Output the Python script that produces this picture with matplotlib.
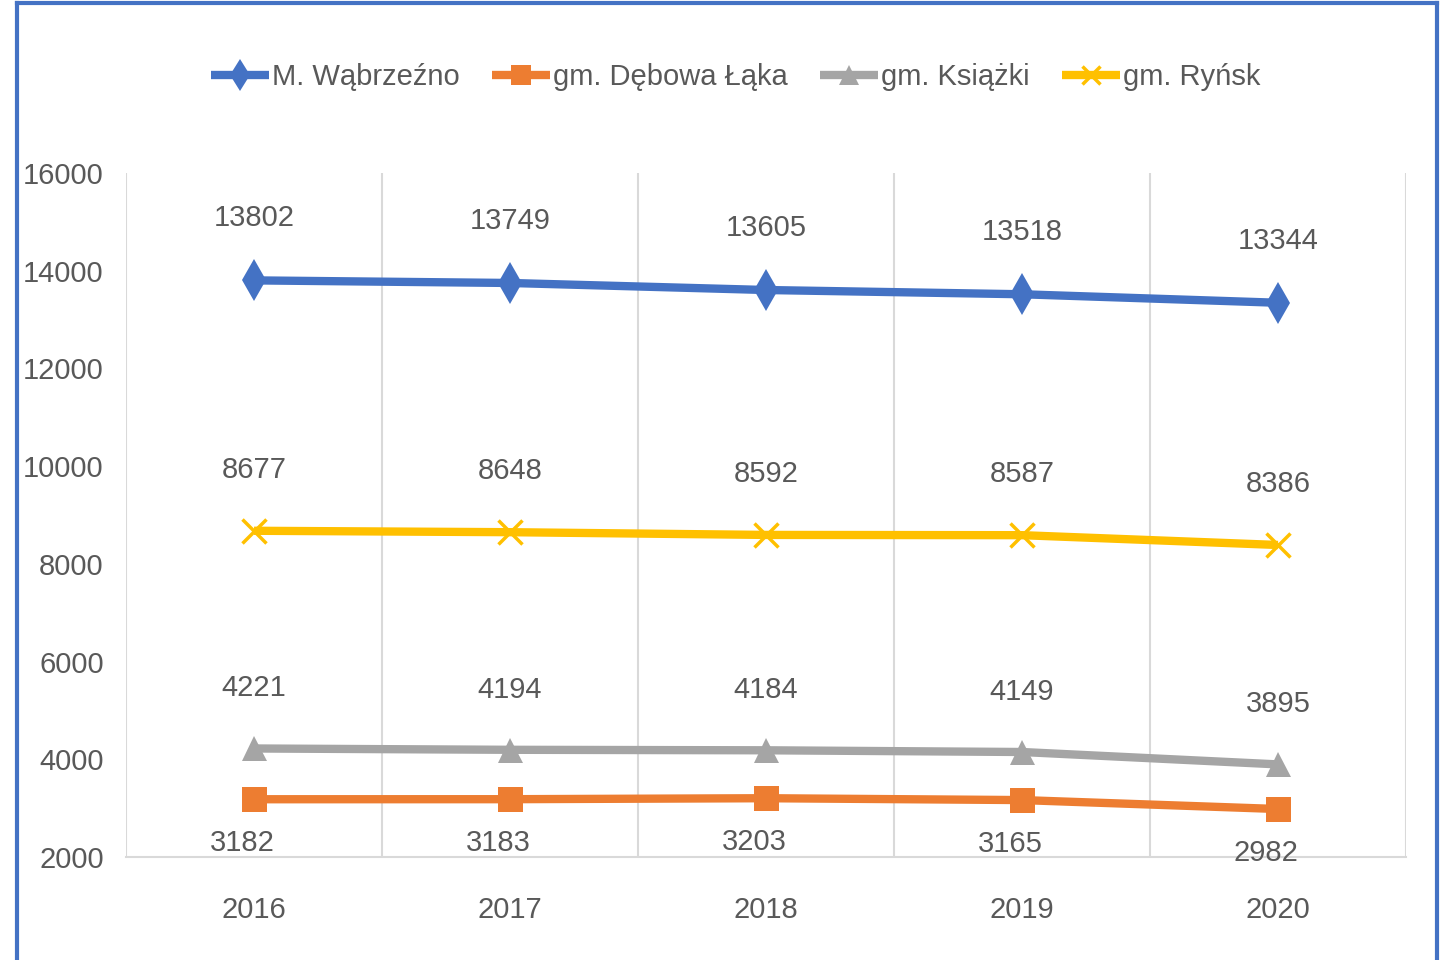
import numpy as np
import matplotlib
matplotlib.use('Agg')
import matplotlib.pyplot as plt
from matplotlib.lines import Line2D

plt.rcParams['font.family'] = ['Liberation Sans Narrow', 'Liberation Sans', 'DejaVu Sans']

years = ['2016', '2017', '2018', '2019', '2020']
wabrzezno = [13802, 13749, 13605, 13518, 13344]
debowa_laka = [3182, 3183, 3203, 3165, 2982]
ksiazki = [4221, 4194, 4184, 4149, 3895]
rynsk = [8677, 8648, 8592, 8587, 8386]

txt = '#595959'
fs = 21

fig = plt.figure(figsize=(14.42, 9.6), dpi=100)
ax = fig.add_axes([0.0874, 0.1073, 0.8876, 0.7125])

x = np.arange(len(years))
series = [
    ('M. Wąbrzeźno', wabrzezno, '#4472C4', 'd', 21, (0, 62)),
    ('gm. Dębowa Łąka', debowa_laka, '#ED7D31', 's', 18, (-12, -44)),
    ('gm. Książki', ksiazki, '#A5A5A5', '^', 18, (0, 60)),
    ('gm. Ryńsk', rynsk, '#FFC000', 'x', 17, (0, 61)),
]

handles = []
for name, vals, col, mk, ms, off in series:
    kw = dict(markeredgewidth=2.5) if mk == 'x' else dict(markeredgewidth=0)
    ln, = ax.plot(x, vals, color=col, lw=6, marker=mk, markersize=ms,
                  markerfacecolor=col, markeredgecolor=col, label=name,
                  solid_capstyle='butt', **kw)
    handles.append(ln)
    for xi, v in zip(x, vals):
        ax.annotate(str(v), (xi, v), xytext=off, textcoords='offset pixels',
                    ha='center', va='center', fontsize=fs, color=txt)

ax.set_xlim(-0.5, 4.5)
ax.set_ylim(2000, 16000)
ax.set_yticks(np.arange(2000, 16001, 2000))
ax.set_xticks(x)
ax.set_xticklabels(years)
ax.set_xticks(np.arange(-0.5, 4.6, 1), minor=True)
ax.grid(True, which='minor', axis='x', color='#D9D9D9', lw=1.5)
ax.tick_params(axis='both', which='both', length=0, labelsize=fs, colors=txt)
ax.tick_params(axis='y', pad=16)
ax.tick_params(axis='x', pad=28)
for s in ['top', 'right', 'left']:
    ax.spines[s].set_visible(False)
ax.spines['bottom'].set_color('#D9D9D9')
ax.spines['bottom'].set_linewidth(1.5)

fig.legend(handles=handles, loc='center', bbox_to_anchor=(0.51, 0.92), ncol=4,
           frameon=False, fontsize=fs, labelcolor=txt, handlelength=2.0,
           handletextpad=0.1, columnspacing=1.1, markerscale=0.8)

# blue frame around the chart
bc = '#4472C4'
fig.add_artist(Line2D([0.0115, 0.0115], [0, 0.9965], color=bc, lw=3, transform=fig.transFigure))
fig.add_artist(Line2D([0.0115, 0.9965], [0.9965, 0.9965], color=bc, lw=3, transform=fig.transFigure))
fig.add_artist(Line2D([0.9965, 0.9965], [0, 0.9965], color=bc, lw=3, transform=fig.transFigure))

plt.savefig('out.png', dpi=100)
